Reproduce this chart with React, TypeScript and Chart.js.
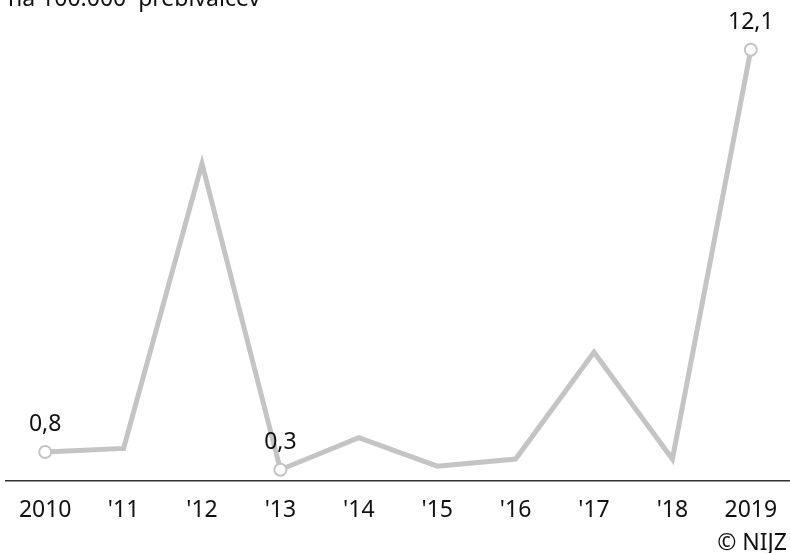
import React, { useEffect, useRef } from "react";
import { Chart, registerables } from "chart.js";

Chart.register(...registerables);

const categories = ["2010", "'11", "'12", "'13", "'14", "'15", "'16", "'17", "'18", "2019"];
const rates = [0.8, 0.9, 8.9, 0.3, 1.2, 0.4, 0.6, 3.6, 0.6, 12.1];
const labelledIdx = [0, 3, 9];
const unitText = "na 100.000  prebivalcev";
const sourceText = "© NIJZ";

const FONT = "'Noto Sans', sans-serif";
const LINE = "#c4c4c4";

const fmt = (v: number) => v.toFixed(1).replace(".", ",");

const textPlugin = {
  id: "texts",
  afterDatasetsDraw(chart: any) {
    const { ctx } = chart;
    const meta = chart.getDatasetMeta(0);
    ctx.save();
    ctx.fillStyle = "#111";
    ctx.font = `23px ${FONT}`;
    ctx.textAlign = "center";
    ctx.textBaseline = "alphabetic";
    labelledIdx.forEach((i) => {
      const p = meta.data[i];
      ctx.fillText(fmt(rates[i]), p.x, p.y - 21);
    });
    ctx.textAlign = "left";
    ctx.fillText(unitText, 8, 6);
    ctx.textAlign = "right";
    ctx.fillText(sourceText, 787, 550);
    ctx.restore();
  },
};

export default function App() {
  const ref = useRef<HTMLCanvasElement>(null);
  useEffect(() => {
    if (!ref.current) return;
    const chart = new Chart(ref.current, {
      type: "line",
      data: {
        labels: categories,
        datasets: [
          {
            data: rates,
            borderColor: LINE,
            borderWidth: 5,
            tension: 0,
            pointRadius: rates.map((_, i) => (labelledIdx.includes(i) ? 6 : 0)),
            pointBackgroundColor: "#fff",
            pointBorderColor: LINE,
            pointBorderWidth: 2,
            clip: false as any,
          },
        ],
      },
      options: {
        responsive: false,
        animation: false,
        layout: { autoPadding: false, padding: { left: 6, right: 0, top: 0, bottom: 13 } },
        plugins: { legend: { display: false }, tooltip: { enabled: false } },
        scales: {
          x: {
            offset: true,
            grid: { display: false, drawTicks: false },
            border: { display: true, color: "#333", width: 1.5 },
            ticks: { color: "#111", font: { family: FONT, size: 23 }, padding: 16 },
            afterFit: (scale: any) => {
              scale.paddingLeft = 0;
              scale.paddingRight = 0;
            },
          },
          y: {
            display: false,
            min: 0,
            max: 13.5,
          },
        },
      },
      plugins: [textPlugin],
    });
    return () => chart.destroy();
  }, []);
  return (
    <div style={{ position: "fixed", left: 0, top: 0, width: 790, height: 553, background: "#fff" }}>
      <canvas ref={ref} width={790} height={553} />
    </div>
  );
}
